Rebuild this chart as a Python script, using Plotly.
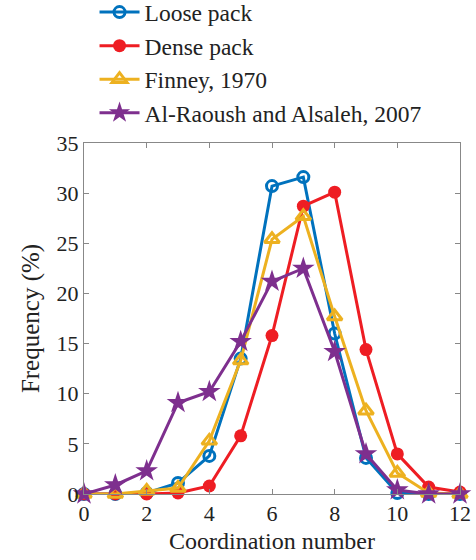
import plotly.graph_objects as go

x = list(range(13))
loose = [0, 0, 0.1, 1.1, 3.8, 13.5, 30.7, 31.6, 16.0, 3.6, 0.1, 0, 0]
dense = [0, 0, 0, 0.1, 0.8, 5.8, 15.8, 28.7, 30.1, 14.4, 4.0, 0.7, 0.2]
finney = [0, 0, 0.3, 0.6, 5.3, 13.3, 25.4, 27.7, 17.7, 8.3, 2.1, 0.1, 0]
raoush = [0, 0.9, 2.3, 9.1, 10.2, 15.2, 21.2, 22.5, 14.2, 4.0, 0.4, 0, 0]

names = ["Loose pack", "Dense pack", "Finney, 1970", "Al-Raoush and Alsaleh, 2007"]
colors = ["#0072BD", "#EE1D23", "#EDB120", "#7E2F8E"]
series = [loose, dense, finney, raoush]
symbols = ["circle-open", "circle", "triangle-up-open", "star"]
sizes = [11, 13, 13, 17]

fig = go.Figure()
for n, c, s, sym, sz in zip(names, colors, series, symbols, sizes):
    fig.add_trace(go.Scatter(
        x=x, y=s, name=n, mode="lines+markers",
        line=dict(color=c, width=3),
        marker=dict(symbol=sym, size=sz, color=c,
                    line=dict(color=c, width=3 if "open" in sym else 0)),
        cliponaxis=False,
    ))

font = "Liberation Serif, Times New Roman, serif"
fig.update_layout(
    width=476, height=560,
    margin=dict(l=84, r=16, t=143, b=66, autoexpand=False),
    paper_bgcolor="white", plot_bgcolor="white",
    font=dict(family=font, size=22, color="#222"),
    showlegend=True,
    legend=dict(
        x=0.028, y=1.435, xanchor="left", yanchor="top",
        font=dict(size=23.5, family=font, color="#222"),
        bgcolor="rgba(0,0,0,0)", tracegroupgap=0,
        itemwidth=40,
    ),
    xaxis=dict(
        range=[0, 12], tickvals=list(range(0, 13, 2)),
        showline=True, linecolor="#888", linewidth=1, mirror="ticks",
        ticks="inside", ticklen=5, tickcolor="#888",
        showgrid=False, zeroline=False,
        title=dict(text="Coordination number", font=dict(size=24, family=font, color="#222"), standoff=6),
        tickfont=dict(size=22, family=font, color="#222"),
    ),
    yaxis=dict(
        range=[0, 35], tickvals=list(range(0, 36, 5)),
        showline=True, linecolor="#888", linewidth=1, mirror="ticks",
        ticks="inside", ticklen=5, tickcolor="#888",
        showgrid=False, zeroline=False,
        title=dict(text="Frequency (%)", font=dict(size=25, family=font, color="#222"), standoff=9),
        tickfont=dict(size=22, family=font, color="#222"),
    ),
)
fig.write_html("out.html")
